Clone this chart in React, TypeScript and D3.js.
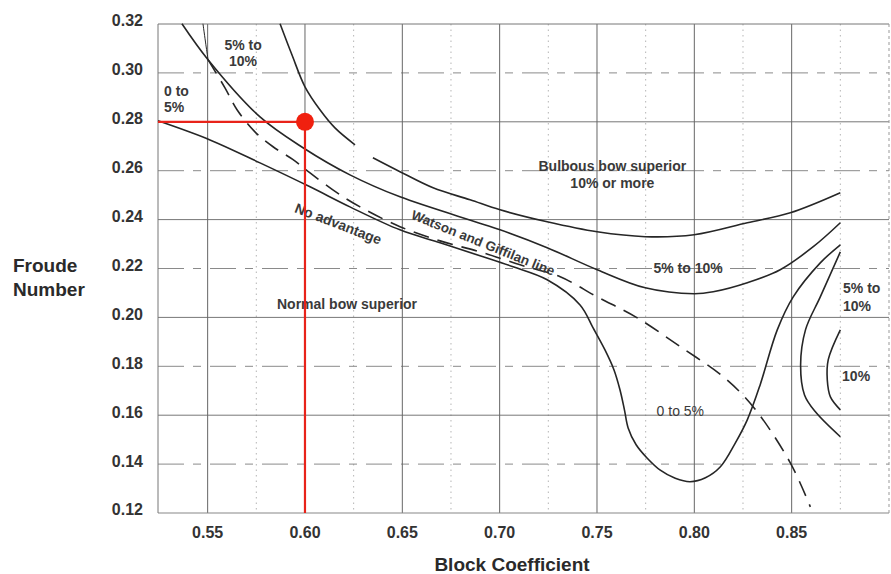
import React from 'react';
import * as d3 from 'd3';

type Pt = [number, number];

// tick values
const xMajor = [0.55, 0.6, 0.65, 0.7, 0.75, 0.8, 0.85];
const xMinor = [0.575, 0.625, 0.675, 0.725, 0.775, 0.825, 0.875];
const ySolid = [0.16, 0.2, 0.24, 0.28];
const yDashed = [0.14, 0.18, 0.22, 0.26, 0.3];
const yTicks = [0.12, 0.14, 0.16, 0.18, 0.2, 0.22, 0.24, 0.26, 0.28, 0.3, 0.32];

// curves (block coefficient, froude number)
const bulbousLowerA: Pt[] = [
  [0.5872, 0.3201], [0.5933, 0.3074], [0.6, 0.2943], [0.6077, 0.2849],
  [0.6154, 0.2775], [0.6257, 0.2706],
];
const bulbousLowerB: Pt[] = [
  [0.6349, 0.2653], [0.6488, 0.2596], [0.6658, 0.253], [0.6848, 0.2481],
  [0.7002, 0.244], [0.7244, 0.2391], [0.7501, 0.235], [0.7748, 0.233],
  [0.7999, 0.2338], [0.8272, 0.2387], [0.8493, 0.2428], [0.875, 0.251],
];
const fiveToTen: Pt[] = [
  [0.5368, 0.3201], [0.5502, 0.3054], [0.5769, 0.282], [0.599, 0.2694],
  [0.6231, 0.2583], [0.6488, 0.2493], [0.7002, 0.2358], [0.7244, 0.2285],
  [0.7501, 0.2195], [0.7748, 0.2121], [0.7999, 0.2097], [0.8097, 0.2105],
  [0.8272, 0.2142], [0.8441, 0.2195], [0.8611, 0.2289], [0.875, 0.2387],
];
const watsonTop: Pt[] = [[0.5476, 0.3201], [0.5491, 0.3115], [0.5502, 0.3054]];
const watsonLine: Pt[] = [
  [0.5502, 0.3054], [0.5589, 0.2939], [0.5651, 0.2849], [0.5743, 0.2759],
  [0.5836, 0.2698], [0.5939, 0.2645], [0.6026, 0.2591], [0.6164, 0.251],
  [0.6283, 0.2452], [0.6488, 0.2371], [0.6694, 0.2313], [0.6899, 0.2268],
  [0.7105, 0.2215], [0.7311, 0.2166], [0.7501, 0.2084], [0.7707, 0.1998],
  [0.7928, 0.188], [0.8149, 0.1757], [0.8303, 0.1634], [0.8493, 0.1405],
  [0.8596, 0.1225],
];
const noAdvantage: Pt[] = [
  [0.5245, 0.2804], [0.5512, 0.2726], [0.5769, 0.2632], [0.6026, 0.2534],
  [0.6231, 0.2452], [0.6488, 0.2358], [0.6694, 0.2305], [0.6899, 0.2252],
  [0.7069, 0.2207], [0.7244, 0.2154], [0.7413, 0.2051], [0.748, 0.1957],
  [0.7541, 0.1867], [0.7587, 0.1786], [0.7618, 0.1704], [0.7641, 0.1622],
  [0.766, 0.1548], [0.7701, 0.1479], [0.7757, 0.1425], [0.7825, 0.1375],
  [0.7902, 0.1342], [0.7978, 0.1328], [0.8057, 0.1344], [0.8134, 0.1389],
  [0.8211, 0.1487], [0.8272, 0.1581], [0.8338, 0.1724], [0.8426, 0.1949],
  [0.8508, 0.2084], [0.8647, 0.2223], [0.875, 0.2297],
];
const rightFiveToTen: Pt[] = [
  [0.875, 0.2268], [0.8647, 0.2084], [0.8571, 0.1949], [0.8546, 0.1806],
  [0.8566, 0.1683], [0.8622, 0.1614], [0.875, 0.1512],
];
const rightTen: Pt[] = [
  [0.875, 0.1949], [0.8688, 0.1827], [0.8683, 0.1744], [0.8699, 0.1675],
  [0.875, 0.1622],
];

// the worked example marked in red
const example: Pt = [0.6, 0.28];

const annotations = [
  { text: '0 to', x: 0.5276, y: 0.2906, anchor: 'start' },
  { text: '5%', x: 0.5276, y: 0.2841, anchor: 'start' },
  { text: '5% to', x: 0.5682, y: 0.3094, anchor: 'middle' },
  { text: '10%', x: 0.5682, y: 0.3029, anchor: 'middle' },
  { text: 'Bulbous bow superior', x: 0.7579, y: 0.26, anchor: 'middle' },
  { text: '10% or more', x: 0.7579, y: 0.253, anchor: 'middle' },
  { text: '5% to 10%', x: 0.7968, y: 0.2182, anchor: 'middle' },
  { text: '5% to', x: 0.8764, y: 0.2101, anchor: 'start' },
  { text: '10%', x: 0.8764, y: 0.2027, anchor: 'start' },
  { text: '10%', x: 0.8759, y: 0.1741, anchor: 'start' },
  { text: 'Normal bow superior', x: 0.6216, y: 0.2035, anchor: 'middle' },
];

const W = 891;
const H = 574;

export default function App() {
  const x = d3.scaleLinear().domain([0.5245, 0.9]).range([158, 889]);
  const y = d3.scaleLinear().domain([0.12, 0.32]).range([513, 24]);
  const line = d3
    .line<Pt>()
    .x(d => x(d[0]))
    .y(d => y(d[1]))
    .curve(d3.curveCatmullRom.alpha(0.5));

  const font = '"Liberation Sans", Arial, sans-serif';
  const curveStyle = { fill: 'none', stroke: '#262626', strokeWidth: 1.6 };

  return (
    <svg
      width={W}
      height={H}
      viewBox={`0 0 ${W} ${H}`}
      style={{ position: 'absolute', left: 0, top: 0, background: '#fff' }}
      fontFamily={font}
    >
      {/* grid */}
      <g>
        {xMinor.map(v => (
          <line key={'xm' + v} x1={x(v)} x2={x(v)} y1={y(0.32)} y2={y(0.12)}
            stroke="#b5b5b5" strokeWidth={1} strokeDasharray="1.5,4" />
        ))}
        {yDashed.map(v => (
          <line key={'yd' + v} x1={x(0.5245)} x2={x(0.9)} y1={y(v)} y2={y(v)}
            stroke="#8a8a8a" strokeWidth={1} strokeDasharray="26,9,8,9" />
        ))}
        {ySolid.map(v => (
          <line key={'ys' + v} x1={x(0.5245)} x2={x(0.9)} y1={y(v)} y2={y(v)}
            stroke="#777" strokeWidth={1} />
        ))}
        {xMajor.map(v => (
          <line key={'xM' + v} x1={x(v)} x2={x(v)} y1={y(0.32)} y2={y(0.12)}
            stroke="#666" strokeWidth={1} />
        ))}
        <line x1={x(0.5245)} x2={x(0.9)} y1={y(0.32)} y2={y(0.32)} stroke="#777" />
        <line x1={x(0.5245)} x2={x(0.9)} y1={y(0.12)} y2={y(0.12)} stroke="#888" strokeWidth={1.2} />
        <line x1={x(0.5245)} x2={x(0.5245)} y1={y(0.32)} y2={y(0.12)} stroke="#777" />
        <line x1={x(0.9)} x2={x(0.9)} y1={y(0.32)} y2={y(0.12)} stroke="#999" strokeDasharray="3,3" />
      </g>

      {/* region boundaries */}
      <g>
        <path d={line(bulbousLowerA) || ''} {...curveStyle} />
        <path d={line(bulbousLowerB) || ''} {...curveStyle} />
        <path d={line(fiveToTen) || ''} {...curveStyle} />
        <path d={line(watsonTop) || ''} {...curveStyle} strokeWidth={1} />
        <path d={line(watsonLine) || ''} {...curveStyle} strokeDasharray="16,9" />
        <path d={line(noAdvantage) || ''} {...curveStyle} />
        <path d={line(rightFiveToTen) || ''} {...curveStyle} />
        <path d={line(rightTen) || ''} {...curveStyle} />
      </g>

      {/* annotations */}
      <g fontSize={14} fontWeight="bold" fill="#3a3a3a">
        {annotations.map((a, i) => (
          <text key={i} x={x(a.x)} y={y(a.y)} textAnchor={a.anchor}>{a.text}</text>
        ))}
        <text x={x(0.7928)} y={y(0.1598)} textAnchor="middle" fontWeight="normal">0 to 5%</text>
        <text
          transform={`translate(${x(0.6171)},${y(0.2383)}) rotate(21)`}
          textAnchor="middle" dy="0.35em"
        >
          No advantage
        </text>
        <text
          transform={`translate(${x(0.6915)},${y(0.2305)}) rotate(22)`}
          textAnchor="middle" dy="0.35em" fontSize={13.5}
        >
          Watson and Giffilan line
        </text>
      </g>

      {/* red example */}
      <g>
        <line x1={x(0.5245)} x2={x(example[0])} y1={y(example[1])} y2={y(example[1])}
          stroke="#e8231a" strokeWidth={2.2} />
        <line x1={x(example[0])} x2={x(example[0])} y1={y(example[1])} y2={y(0.12)}
          stroke="#e8231a" strokeWidth={2.2} />
        <circle cx={x(example[0])} cy={y(example[1])} r={9} fill="#f0200f" />
      </g>

      {/* axes */}
      <g fontSize={16} fontWeight="bold" fill="#333">
        {yTicks.map(v => (
          <text key={'yt' + v} x={143} y={y(v)} dy="0.15em" textAnchor="end">
            {d3.format('.2f')(v)}
          </text>
        ))}
        {xMajor.map(v => (
          <text key={'xt' + v} x={x(v)} y={538} textAnchor="middle">
            {d3.format('.2f')(v)}
          </text>
        ))}
      </g>
      <g fontSize={19} fontWeight="bold" fill="#2a2a2a">
        <text x={13} y={272}>Froude</text>
        <text x={13} y={296}>Number</text>
        <text x={512} y={571} textAnchor="middle">Block Coefficient</text>
      </g>
    </svg>
  );
}
